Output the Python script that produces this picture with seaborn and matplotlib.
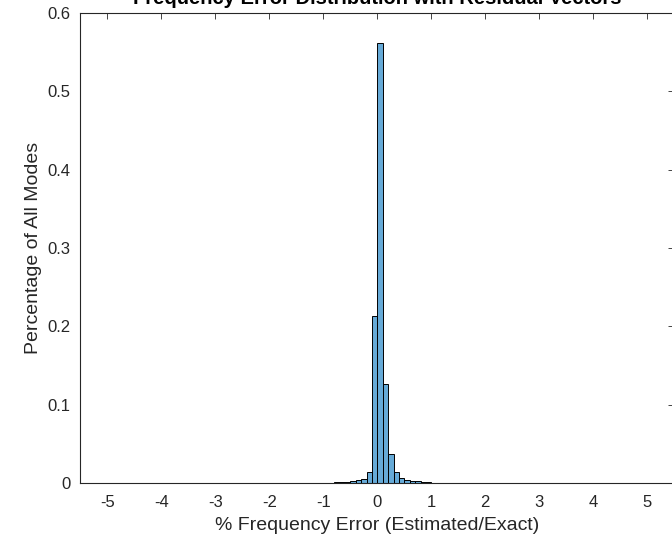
import numpy as np
import pandas as pd
import matplotlib
matplotlib.use("Agg")
import matplotlib.pyplot as plt
import seaborn as sns

# bin edges and heights (fraction of all modes)
bin_left = [-1.0, -0.9, -0.8, -0.7, -0.6, -0.5, -0.4, -0.3, -0.2, -0.1,
            0.0, 0.1, 0.2, 0.3, 0.4, 0.5, 0.6, 0.7, 0.8, 0.9,
            1.0, 1.1, 1.2, 1.3, 1.4, 1.5, 1.6]
bin_height = [0.0004, 0.0006, 0.0009, 0.0013, 0.0018, 0.0025, 0.0035, 0.005, 0.014, 0.213,
              0.562, 0.126, 0.037, 0.014, 0.007, 0.004, 0.0028, 0.002, 0.0013, 0.0009,
              0.0006, 0.0005, 0.0004, 0.0003, 0.0002, 0.0002, 0.0001]
x_ticks = [-5, -4, -3, -2, -1, 0, 1, 2, 3, 4, 5]
y_ticks = [0, 0.1, 0.2, 0.3, 0.4, 0.5, 0.6]
y_labels = ["0", "0.1", "0.2", "0.3", "0.4", "0.5", "0.6"]

sns.set_style("white")
plt.rcParams["font.family"] = ["Liberation Sans", "DejaVu Sans"]

fig = plt.figure(figsize=(6.72, 5.39), dpi=100)
ax = fig.add_axes([80.3 / 672, 1 - 483 / 539, 594 / 672, (483 - 13) / 539])

df = pd.DataFrame({"err": [b + 0.05 for b in bin_left], "w": bin_height})
edges = [round(e, 2) for e in np.arange(-5.5, 5.55, 0.1)]
sns.histplot(data=df, x="err", weights="w", bins=edges, ax=ax,
             color="#0072BD", alpha=0.6, edgecolor="black", linewidth=0.7)

ax.set_xlim(-5.5, 5.5)
ax.set_ylim(0, 0.6)
ax.set_xticks(x_ticks)
ax.set_xticklabels([str(t) for t in x_ticks])
ax.set_yticks(y_ticks)
ax.set_yticklabels(y_labels)
ax.tick_params(direction="in", length=4.5, width=0.6, top=True, right=True,
               labelsize=12, colors="#262626", labelcolor="#262626")
ax.tick_params(axis="x", pad=8.5)
ax.tick_params(axis="y", pad=7)
for s in ax.spines.values():
    s.set_color("#262626")
    s.set_linewidth(0.8)

ax.set_xlabel("% Frequency Error (Estimated/Exact)", fontsize=14, color="#262626", labelpad=5)
ax.set_ylabel("Percentage of All Modes", fontsize=14, color="#262626", labelpad=4)
ax.set_title("Frequency Error Distribution with Residual Vectors", fontsize=14.5,
             fontweight="bold", color="black", pad=6.5)

fig.savefig("out.png", dpi=100)
